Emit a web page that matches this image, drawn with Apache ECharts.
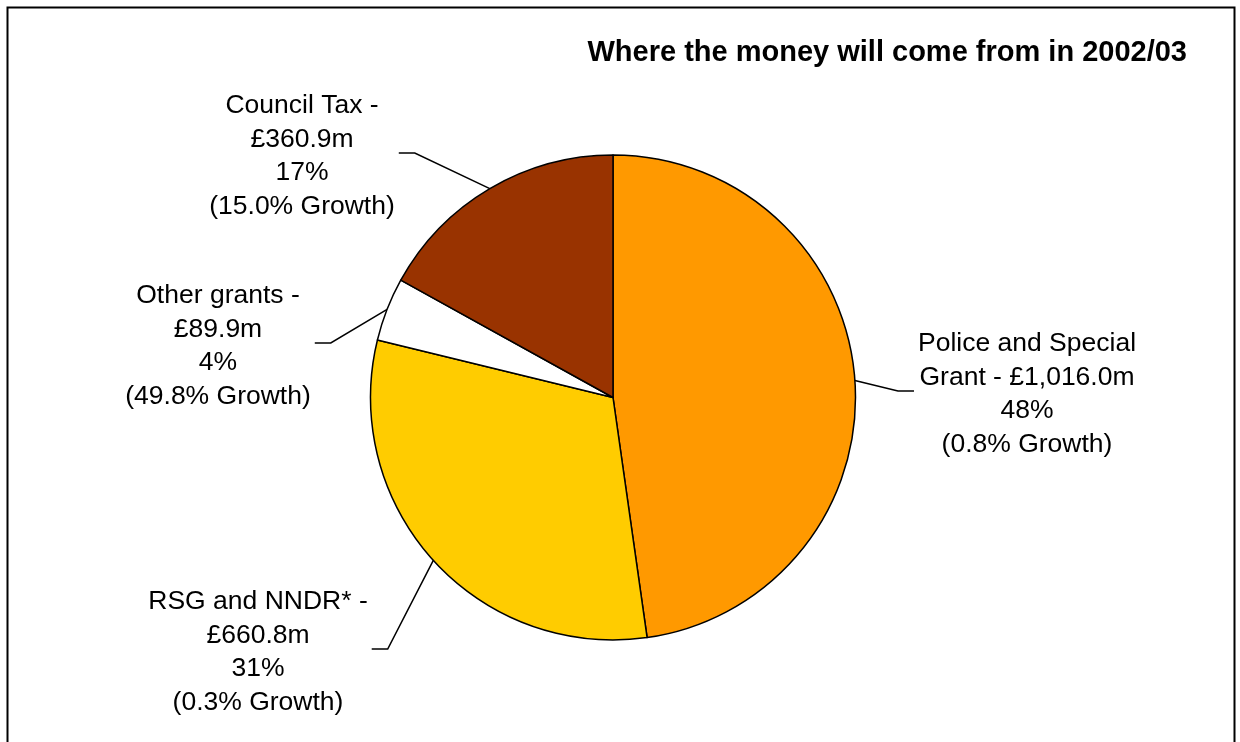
<!DOCTYPE html>
<html>
<head>
<meta charset="utf-8">
<title>Where the money will come from in 2002/03</title>
<script src="https://cdn.jsdelivr.net/npm/echarts@6/dist/echarts.min.js"></script>
<style>
  html, body { margin: 0; padding: 0; background: #ffffff; }
  #chart { width: 1240px; height: 742px; }
</style>
</head>
<body>
<div id="chart"></div>
<script>
// Income sources for 2002/03, in £ millions, with growth on the previous year
const categories = ['Police and Special Grant', 'RSG and NNDR*', 'Other grants', 'Council Tax'];
const amounts = [1016.0, 660.8, 89.9, 360.9];
const growth = [0.8, 0.3, 49.8, 15.0];
const sliceColors = ['#FF9900', '#FFCC00', '#FFFFFF', '#993300'];
const titleText = 'Where the money will come from in 2002/03';

// Where each label block sits (centre of the text block) and which side of it the leader attaches to
const labelSpots = [
  { cx: 1027, cy: 394, side: 'left' },
  { cx: 258, cy: 652, side: 'right' },
  { cx: 218, cy: 346, side: 'right' },
  { cx: 302, cy: 156, side: 'right' }
];

const FONT = '"Liberation Sans", Arial, Helvetica, sans-serif';

// Greedy word wrap so the name/amount line breaks like the printed labels
function wrapWords(text, maxChars) {
  const words = text.split(' ');
  const lines = [];
  let line = '';
  words.forEach(function (w) {
    const next = line ? line + ' ' + w : w;
    if (next.length > maxChars && line) {
      lines.push(line);
      line = w;
    } else {
      line = next;
    }
  });
  if (line) lines.push(line);
  return lines.join('\n');
}

function money(v) {
  return v.toLocaleString('en-GB', { minimumFractionDigits: 1, maximumFractionDigits: 1 });
}

const pieData = categories.map(function (name, i) {
  return { name: name, value: amounts[i], itemStyle: { color: sliceColors[i] } };
});

const chart = echarts.init(document.getElementById('chart'), null, { renderer: 'canvas' });

chart.setOption({
  backgroundColor: '#ffffff',
  animation: false,
  title: {
    text: titleText,
    right: 48,
    top: 33,
    textStyle: { fontFamily: FONT, fontSize: 29, fontWeight: 'bold', color: '#000000' }
  },
  graphic: [{
    type: 'rect',
    shape: { x: 7.5, y: 7.5, width: 1227, height: 800 },
    style: { fill: 'none', stroke: '#000000', lineWidth: 2 },
    silent: true
  }],
  series: [{
    type: 'pie',
    center: [613, 397.5],
    radius: 242.5,
    startAngle: 90,
    clockwise: true,
    avoidLabelOverlap: false,
    percentPrecision: 0,
    itemStyle: { borderColor: '#000000', borderWidth: 1.5 },
    emphasis: { disabled: true },
    label: {
      show: true,
      position: 'outside',
      fontFamily: FONT,
      fontSize: 26.5,
      lineHeight: 33.5,
      color: '#000000',
      align: 'center',
      formatter: function (p) {
        const head = wrapWords(p.name + ' - £' + money(p.value) + 'm', 19);
        return head + '\n' + p.percent + '%\n(' + growth[p.dataIndex].toFixed(1) + '% Growth)';
      }
    },
    labelLine: {
      show: true,
      length: 20,
      length2: 15,
      lineStyle: { color: '#000000', width: 1.5 }
    },
    labelLayout: function (params) {
      const spot = labelSpots[params.dataIndex];
      const w = params.labelRect.width;
      const dir = spot.side === 'left' ? -1 : 1;
      const endX = spot.cx + dir * (w / 2 + 4);
      const kneeX = endX + dir * 16;
      const lineY = spot.cy - 3;
      const edge = params.labelLinePoints ? params.labelLinePoints[0] : [kneeX, lineY];
      return {
        x: spot.cx,
        y: spot.cy,
        align: 'center',
        verticalAlign: 'middle',
        labelLinePoints: [edge, [kneeX, lineY], [endX, lineY]]
      };
    },
    data: pieData
  }]
});
</script>
</body>
</html>
